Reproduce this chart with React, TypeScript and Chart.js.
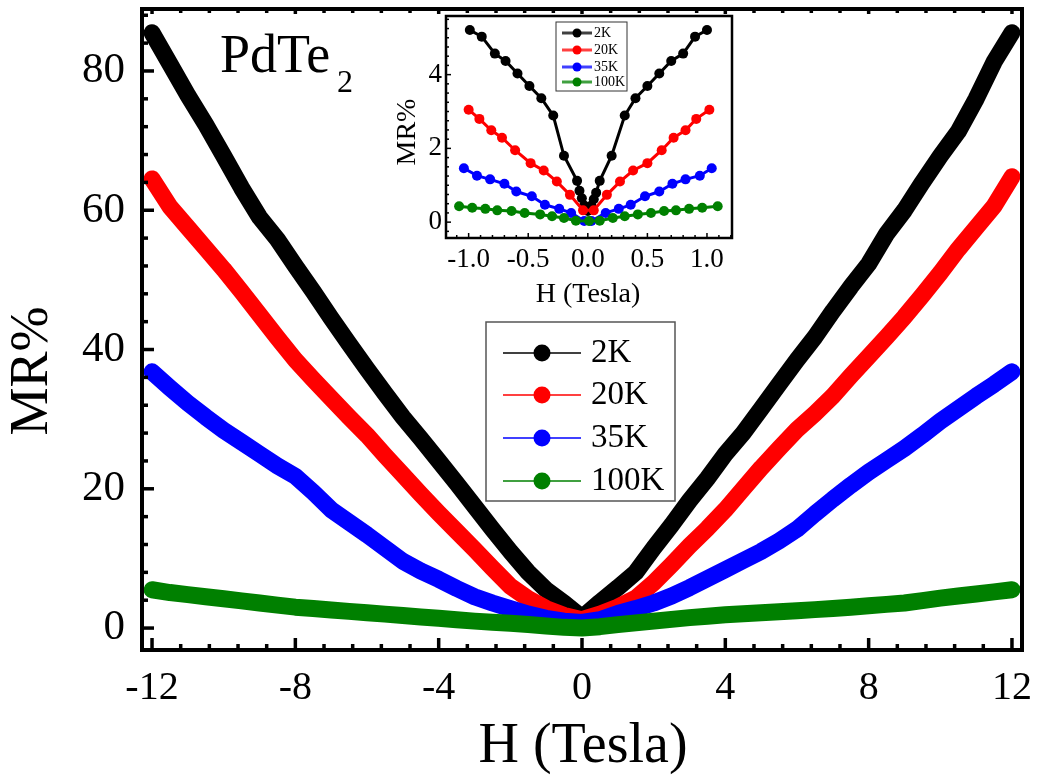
import React, { useEffect, useRef } from 'react';
import { Chart, registerables } from 'chart.js';
Chart.register(...registerables);

const FONT = "'Liberation Serif', 'Times New Roman', Times, serif";

// ---------- main plot data ----------
const seriesLabels = ['2K', '20K', '35K', '100K'];
const seriesColors = ['#000000', '#ff0000', '#0000ff', '#008000'];

const fieldH = [
  -12, -11.5, -11, -10.5, -10, -9.5, -9, -8.5, -8, -7.5, -7, -6.5, -6, -5.5, -5, -4.5, -4, -3.5, -3, -2.5, -2, -1.5, -1, -0.5,
  0,
  0.5, 1, 1.5, 2, 2.5, 3, 3.5, 4, 4.5, 5, 5.5, 6, 6.5, 7, 7.5, 8, 8.5, 9, 9.5, 10, 10.5, 11, 11.5, 12,
];
const mr2K = [
  85.5, 81, 76.5, 72.3, 67.8, 63.2, 59, 55.8, 52, 48.3, 44.5, 40.8, 37.2, 33.7, 30.3, 27.2, 24, 20.8, 17.5, 14.2, 11, 8, 5.5, 3.6,
  1.5,
  3.7, 5.8, 8.0, 11.5, 14.8, 18.3, 21.5, 25, 28, 31.5, 35, 38.5, 41.8, 45.5, 49, 52.3, 56.6, 60, 64, 67.8, 71.3, 76, 81.3, 85.5,
];
const mr20K = [
  64.5, 60.5, 57.5, 54.5, 51.5, 48.3, 45, 41.7, 38.5, 35.7, 33, 30.3, 27.7, 24.8, 22, 19.2, 16.5, 13.9, 11.3, 8.6, 6, 4.2, 2.8, 1.8,
  1.2,
  2, 3, 4.3, 6.5, 9.1, 11.8, 14.3, 17, 20, 23, 25.8, 28.5, 30.8, 33.3, 36.2, 39, 41.8, 44.7, 47.8, 51, 54.4, 57.5, 60.6, 64.8,
];
const mr35K = [
  36.8, 34.5, 32.3, 30.3, 28.4, 26.7, 25, 23.3, 21.8, 19.5, 17, 15.2, 13.4, 11.5, 9.6, 8.2, 7, 5.7, 4.5, 3.6, 2.8, 2.0, 1.4, 1.0,
  0.8,
  1.2, 2.1, 2.8, 3.6, 4.6, 5.8, 7.1, 8.4, 9.7, 11, 12.5, 14.2, 16.4, 18.5, 20.5, 22.4, 24.1, 25.8, 27.7, 29.7, 31.5, 33.3, 35, 36.8,
];
const mr100K = [
  5.5, 5.1, 4.8, 4.5, 4.2, 3.9, 3.6, 3.3, 3.0, 2.8, 2.6, 2.4, 2.2, 2.0, 1.8, 1.6, 1.4, 1.2, 1.0, 0.85, 0.7, 0.5, 0.3, 0.1,
  0,
  0.2, 0.5, 0.75, 1.0, 1.25, 1.5, 1.7, 1.9, 2.05, 2.2, 2.35, 2.5, 2.65, 2.8, 3.0, 3.2, 3.4, 3.6, 3.95, 4.3, 4.6, 4.9, 5.2, 5.5,
];
const mainSeries = [mr2K, mr20K, mr35K, mr100K];

const xTicks = [-12, -8, -4, 0, 4, 8, 12];
const yTicks = [0, 20, 40, 60, 80];

// ---------- inset data ----------
const insetH2K = [-0.99, -0.89, -0.78, -0.69, -0.59, -0.49, -0.39, -0.29, -0.2, -0.09, -0.07, -0.05, -0.03, 0, 0.03, 0.05, 0.07, 0.1, 0.2, 0.31, 0.4, 0.5, 0.6, 0.7, 0.8, 0.9, 1.0];
const insetMR2K = [5.21, 5.03, 4.57, 4.37, 4.03, 3.69, 3.36, 2.89, 1.8, 1.12, 0.85, 0.65, 0.45, 0.3, 0.45, 0.62, 0.8, 1.12, 1.8, 2.89, 3.36, 3.69, 4.03, 4.37, 4.57, 5.03, 5.21];
const insetH20K = [-1.0, -0.91, -0.81, -0.72, -0.61, -0.48, -0.37, -0.26, -0.15, -0.04, 0.05, 0.16, 0.27, 0.38, 0.5, 0.62, 0.72, 0.82, 0.91, 1.02];
const insetMR20K = [3.05, 2.8, 2.49, 2.29, 1.95, 1.6, 1.4, 1.1, 0.74, 0.32, 0.32, 0.74, 1.1, 1.4, 1.6, 1.95, 2.29, 2.49, 2.8, 3.05];
const insetH35K = [-1.04, -0.93, -0.82, -0.7, -0.6, -0.47, -0.36, -0.24, -0.14, -0.03, 0.03, 0.15, 0.26, 0.36, 0.48, 0.6, 0.71, 0.82, 0.94, 1.04];
const insetMR35K = [1.46, 1.26, 1.16, 1.04, 0.83, 0.7, 0.47, 0.36, 0.25, 0.03, 0.03, 0.25, 0.36, 0.47, 0.7, 0.83, 1.04, 1.16, 1.26, 1.46];
const insetH100K = [-1.08, -0.97, -0.86, -0.76, -0.64, -0.53, -0.4, -0.3, -0.2, -0.1, 0.01, 0.1, 0.21, 0.31, 0.42, 0.53, 0.64, 0.74, 0.85, 0.96, 1.09];
const insetMR100K = [0.43, 0.39, 0.36, 0.32, 0.3, 0.25, 0.21, 0.16, 0.11, 0.04, 0.03, 0.04, 0.11, 0.16, 0.21, 0.25, 0.3, 0.32, 0.36, 0.39, 0.43];
const insetH = [insetH2K, insetH20K, insetH35K, insetH100K];
const insetMR = [insetMR2K, insetMR20K, insetMR35K, insetMR100K];

const insetXTicks = [-1, -0.5, 0, 0.5, 1];
const insetYTicks = [0, 2, 4];

// ---------- helpers ----------
function minorValues(majors: number[], sub: number, min: number, max: number) {
  const step = (majors[1] - majors[0]) / sub;
  const out: number[] = [];
  const start = majors[0] - Math.floor((majors[0] - min) / step) * step;
  for (let k = 0; k < 1000; k++) {
    const v = start + k * step;
    if (v > max + 1e-9) break;
    if (v < min) continue;
    if (!majors.some((m) => Math.abs(m - v) < step * 1e-3)) out.push(v);
  }
  return out;
}

type FrameCfg = {
  lineWidth: number;
  tickWidth: number;
  xMajors: number[];
  yMajors: number[];
  xSub: number;
  ySub: number;
  major: number;
  minor: number;
  topMajor: number;
  topMinor: number;
  right: boolean;
};

function makeFramePlugin(cfg: FrameCfg) {
  return {
    id: 'frameTicks',
    afterDraw(chart: any) {
      const { ctx, chartArea: a } = chart;
      const xs = chart.scales.x;
      const ys = chart.scales.y;
      ctx.save();
      ctx.strokeStyle = '#000';
      ctx.lineCap = 'butt';
      ctx.lineWidth = cfg.tickWidth;
      const xMin = minorValues(cfg.xMajors, cfg.xSub, xs.min, xs.max);
      const yMin = minorValues(cfg.yMajors, cfg.ySub, ys.min, ys.max);
      const seg = (x1: number, y1: number, x2: number, y2: number) => {
        ctx.beginPath();
        ctx.moveTo(x1, y1);
        ctx.lineTo(x2, y2);
        ctx.stroke();
      };
      cfg.xMajors.forEach((v) => {
        const p = xs.getPixelForValue(v);
        seg(p, a.bottom, p, a.bottom - cfg.major);
        if (cfg.topMajor) seg(p, a.top, p, a.top + cfg.topMajor);
      });
      xMin.forEach((v) => {
        const p = xs.getPixelForValue(v);
        seg(p, a.bottom, p, a.bottom - cfg.minor);
        if (cfg.topMinor) seg(p, a.top, p, a.top + cfg.topMinor);
      });
      cfg.yMajors.forEach((v) => {
        const p = ys.getPixelForValue(v);
        seg(a.left, p, a.left + cfg.major, p);
        if (cfg.right) seg(a.right, p, a.right - cfg.major, p);
      });
      yMin.forEach((v) => {
        const p = ys.getPixelForValue(v);
        seg(a.left, p, a.left + cfg.minor, p);
        if (cfg.right) seg(a.right, p, a.right - cfg.minor, p);
      });
      ctx.lineWidth = cfg.lineWidth;
      ctx.strokeRect(a.left, a.top, a.right - a.left, a.bottom - a.top);
      ctx.restore();
    },
  };
}

type TextItem = { text: string; x: number; y: number; size: number; align: CanvasTextAlign; baseline: CanvasTextBaseline; rotate?: number };
type LegendCfg = {
  box: [number, number, number, number];
  rows: number[];
  lineX1: number;
  lineX2: number;
  markerX: number;
  markerR: number;
  textX: number;
  size: number;
  lineWidth: number;
  borderColor: string;
  borderWidth: number;
};

function makeTextPlugin(items: TextItem[], legend: LegendCfg) {
  return {
    id: 'textsLegend',
    afterDraw(chart: any) {
      const { ctx } = chart;
      ctx.save();
      ctx.fillStyle = '#000';
      items.forEach((t) => {
        ctx.save();
        ctx.font = `${t.size}px ${FONT}`;
        ctx.textAlign = t.align;
        ctx.textBaseline = t.baseline;
        ctx.translate(t.x, t.y);
        if (t.rotate) ctx.rotate(t.rotate);
        ctx.fillText(t.text, 0, 0);
        ctx.restore();
      });
      const [bx, by, bw, bh] = legend.box;
      ctx.strokeStyle = legend.borderColor;
      ctx.lineWidth = legend.borderWidth;
      ctx.strokeRect(bx, by, bw, bh);
      chart.data.datasets.forEach((ds: any, i: number) => {
        const y = legend.rows[i];
        ctx.strokeStyle = ds.borderColor;
        ctx.globalAlpha = 0.75;
        ctx.lineWidth = legend.lineWidth;
        ctx.beginPath();
        ctx.moveTo(legend.lineX1, y);
        ctx.lineTo(legend.lineX2, y);
        ctx.stroke();
        ctx.globalAlpha = 1;
        ctx.fillStyle = ds.borderColor;
        ctx.beginPath();
        ctx.arc(legend.markerX, y, legend.markerR, 0, Math.PI * 2);
        ctx.fill();
        ctx.fillStyle = '#000';
        ctx.font = `${legend.size}px ${FONT}`;
        ctx.textAlign = 'left';
        ctx.textBaseline = 'middle';
        ctx.fillText(ds.label, legend.textX, y);
      });
      ctx.restore();
    },
  };
}

const noPadX = (h: number) => (s: any) => {
  s.height = h;
  s.paddingLeft = 0;
  s.paddingRight = 0;
  s.paddingTop = 0;
  s.paddingBottom = 0;
};
const noPadY = (w: number) => (s: any) => {
  s.width = w;
  s.paddingLeft = 0;
  s.paddingRight = 0;
  s.paddingTop = 0;
  s.paddingBottom = 0;
};

export default function App() {
  const mainRef = useRef<HTMLCanvasElement>(null);
  const insetRef = useRef<HTMLCanvasElement>(null);

  useEffect(() => {
    const main = new Chart(mainRef.current as HTMLCanvasElement, {
      type: 'line',
      data: {
        datasets: seriesLabels.map((label, i) => ({
          label,
          data: fieldH.map((h, k) => ({ x: h, y: mainSeries[i][k] })),
          borderColor: seriesColors[i],
          backgroundColor: seriesColors[i],
          borderWidth: 17,
          borderCapStyle: 'round',
          borderJoinStyle: 'round',
          pointRadius: 0,
          tension: 0,
          order: seriesLabels.length - 1 - i,
          clip: false,
        })),
      } as any,
      options: {
        animation: false,
        responsive: false,
        maintainAspectRatio: false,
        layout: { padding: { top: 9, right: 18, left: 0, bottom: 0 } },
        plugins: { legend: { display: false }, tooltip: { enabled: false } },
        scales: {
          x: {
            type: 'linear',
            min: -12.28,
            max: 12.28,
            grid: { display: false, drawTicks: false },
            border: { display: false },
            afterBuildTicks: (s: any) => {
              s.ticks = xTicks.map((v) => ({ value: v }));
            },
            afterFit: noPadX(126),
            ticks: {
              font: { family: FONT, size: 40 },
              color: '#000',
              padding: 14,
              maxRotation: 0,
              autoSkip: false,
              callback: (v: any) => String(v),
            },
          },
          y: {
            type: 'linear',
            min: -3.15,
            max: 88.9,
            grid: { display: false, drawTicks: false },
            border: { display: false },
            afterBuildTicks: (s: any) => {
              s.ticks = yTicks.map((v) => ({ value: v }));
            },
            afterFit: noPadY(142),
            ticks: {
              font: { family: FONT, size: 43 },
              color: '#000',
              padding: 17,
              autoSkip: false,
              callback: (v: any) => String(v),
            },
          },
        },
      } as any,
      plugins: [
        makeFramePlugin({
          lineWidth: 4,
          tickWidth: 3.5,
          xMajors: xTicks,
          yMajors: yTicks,
          xSub: 5,
          ySub: 5,
          major: 12,
          minor: 6,
          topMajor: 5,
          topMinor: 4,
          right: false,
        }),
        makeTextPlugin(
          [
            { text: 'PdTe', x: 220, y: 72, size: 54, align: 'left', baseline: 'alphabetic' },
            { text: '2', x: 337, y: 92, size: 32, align: 'left', baseline: 'alphabetic' },
            { text: 'H (Tesla)', x: 583, y: 762, size: 56, align: 'center', baseline: 'alphabetic' },
            { text: 'MR%', x: 33, y: 371, size: 54, align: 'center', baseline: 'middle', rotate: -Math.PI / 2 },
          ],
          {
            box: [486, 322, 189, 179],
            rows: [353, 395, 438, 481],
            lineX1: 503,
            lineX2: 581,
            markerX: 542,
            markerR: 8.5,
            textX: 591,
            size: 33,
            lineWidth: 2,
            borderColor: '#555',
            borderWidth: 1.5,
          }
        ),
      ],
    });

    const inset = new Chart(insetRef.current as HTMLCanvasElement, {
      type: 'line',
      data: {
        datasets: seriesLabels.map((label, i) => ({
          label,
          data: insetH[i].map((h, k) => ({ x: h, y: insetMR[i][k] })),
          borderColor: seriesColors[i],
          backgroundColor: seriesColors[i],
          pointBackgroundColor: seriesColors[i],
          pointBorderWidth: 0,
          borderWidth: 3,
          pointRadius: 5,
          tension: 0,
          order: seriesLabels.length - 1 - i,
          clip: false,
        })),
      } as any,
      options: {
        animation: false,
        responsive: false,
        maintainAspectRatio: false,
        layout: { padding: { top: 11, right: 18, left: 0, bottom: 0 } },
        plugins: { legend: { display: false }, tooltip: { enabled: false } },
        scales: {
          x: {
            type: 'linear',
            min: -1.19,
            max: 1.21,
            grid: { display: false, drawTicks: false },
            border: { display: false },
            afterBuildTicks: (s: any) => {
              s.ticks = insetXTicks.map((v) => ({ value: v }));
            },
            afterFit: noPadX(77),
            ticks: {
              font: { family: FONT, size: 27 },
              color: '#000',
              padding: 6,
              maxRotation: 0,
              autoSkip: false,
              callback: (v: any) => Number(v).toFixed(1),
            },
          },
          y: {
            type: 'linear',
            min: -0.43,
            max: 5.59,
            grid: { display: false, drawTicks: false },
            border: { display: false },
            afterBuildTicks: (s: any) => {
              s.ticks = insetYTicks.map((v) => ({ value: v }));
            },
            afterFit: noPadY(66),
            ticks: {
              font: { family: FONT, size: 27 },
              color: '#000',
              padding: 4,
              autoSkip: false,
              callback: (v: any) => String(v),
            },
          },
        },
      } as any,
      plugins: [
        makeFramePlugin({
          lineWidth: 2.5,
          tickWidth: 1.5,
          xMajors: insetXTicks,
          yMajors: insetYTicks,
          xSub: 5,
          ySub: 8,
          major: 5,
          minor: 3,
          topMajor: 0,
          topMinor: 0,
          right: false,
        }),
        makeTextPlugin(
          [
            { text: 'H (Tesla)', x: 208, y: 297, size: 28, align: 'center', baseline: 'alphabetic' },
            { text: 'MR%', x: 28, y: 127, size: 28, align: 'center', baseline: 'middle', rotate: -Math.PI / 2 },
          ],
          {
            box: [176, 17, 71, 69],
            rows: [28, 45, 62, 77],
            lineX1: 182,
            lineX2: 212,
            markerX: 197,
            markerR: 4.5,
            textX: 214,
            size: 14,
            lineWidth: 3,
            borderColor: '#333',
            borderWidth: 1,
          }
        ),
      ],
    });

    return () => {
      main.destroy();
      inset.destroy();
    };
  }, []);

  return (
    <div style={{ position: 'fixed', left: 0, top: 0, width: 1040, height: 776, background: '#fff' }}>
      <canvas
        ref={mainRef}
        width={1040}
        height={776}
        style={{ position: 'absolute', left: 0, top: 0, width: 1040, height: 776, display: 'block' }}
      />
      <canvas
        ref={insetRef}
        width={370}
        height={310}
        style={{ position: 'absolute', left: 380, top: 5, width: 370, height: 310, display: 'block' }}
      />
    </div>
  );
}
